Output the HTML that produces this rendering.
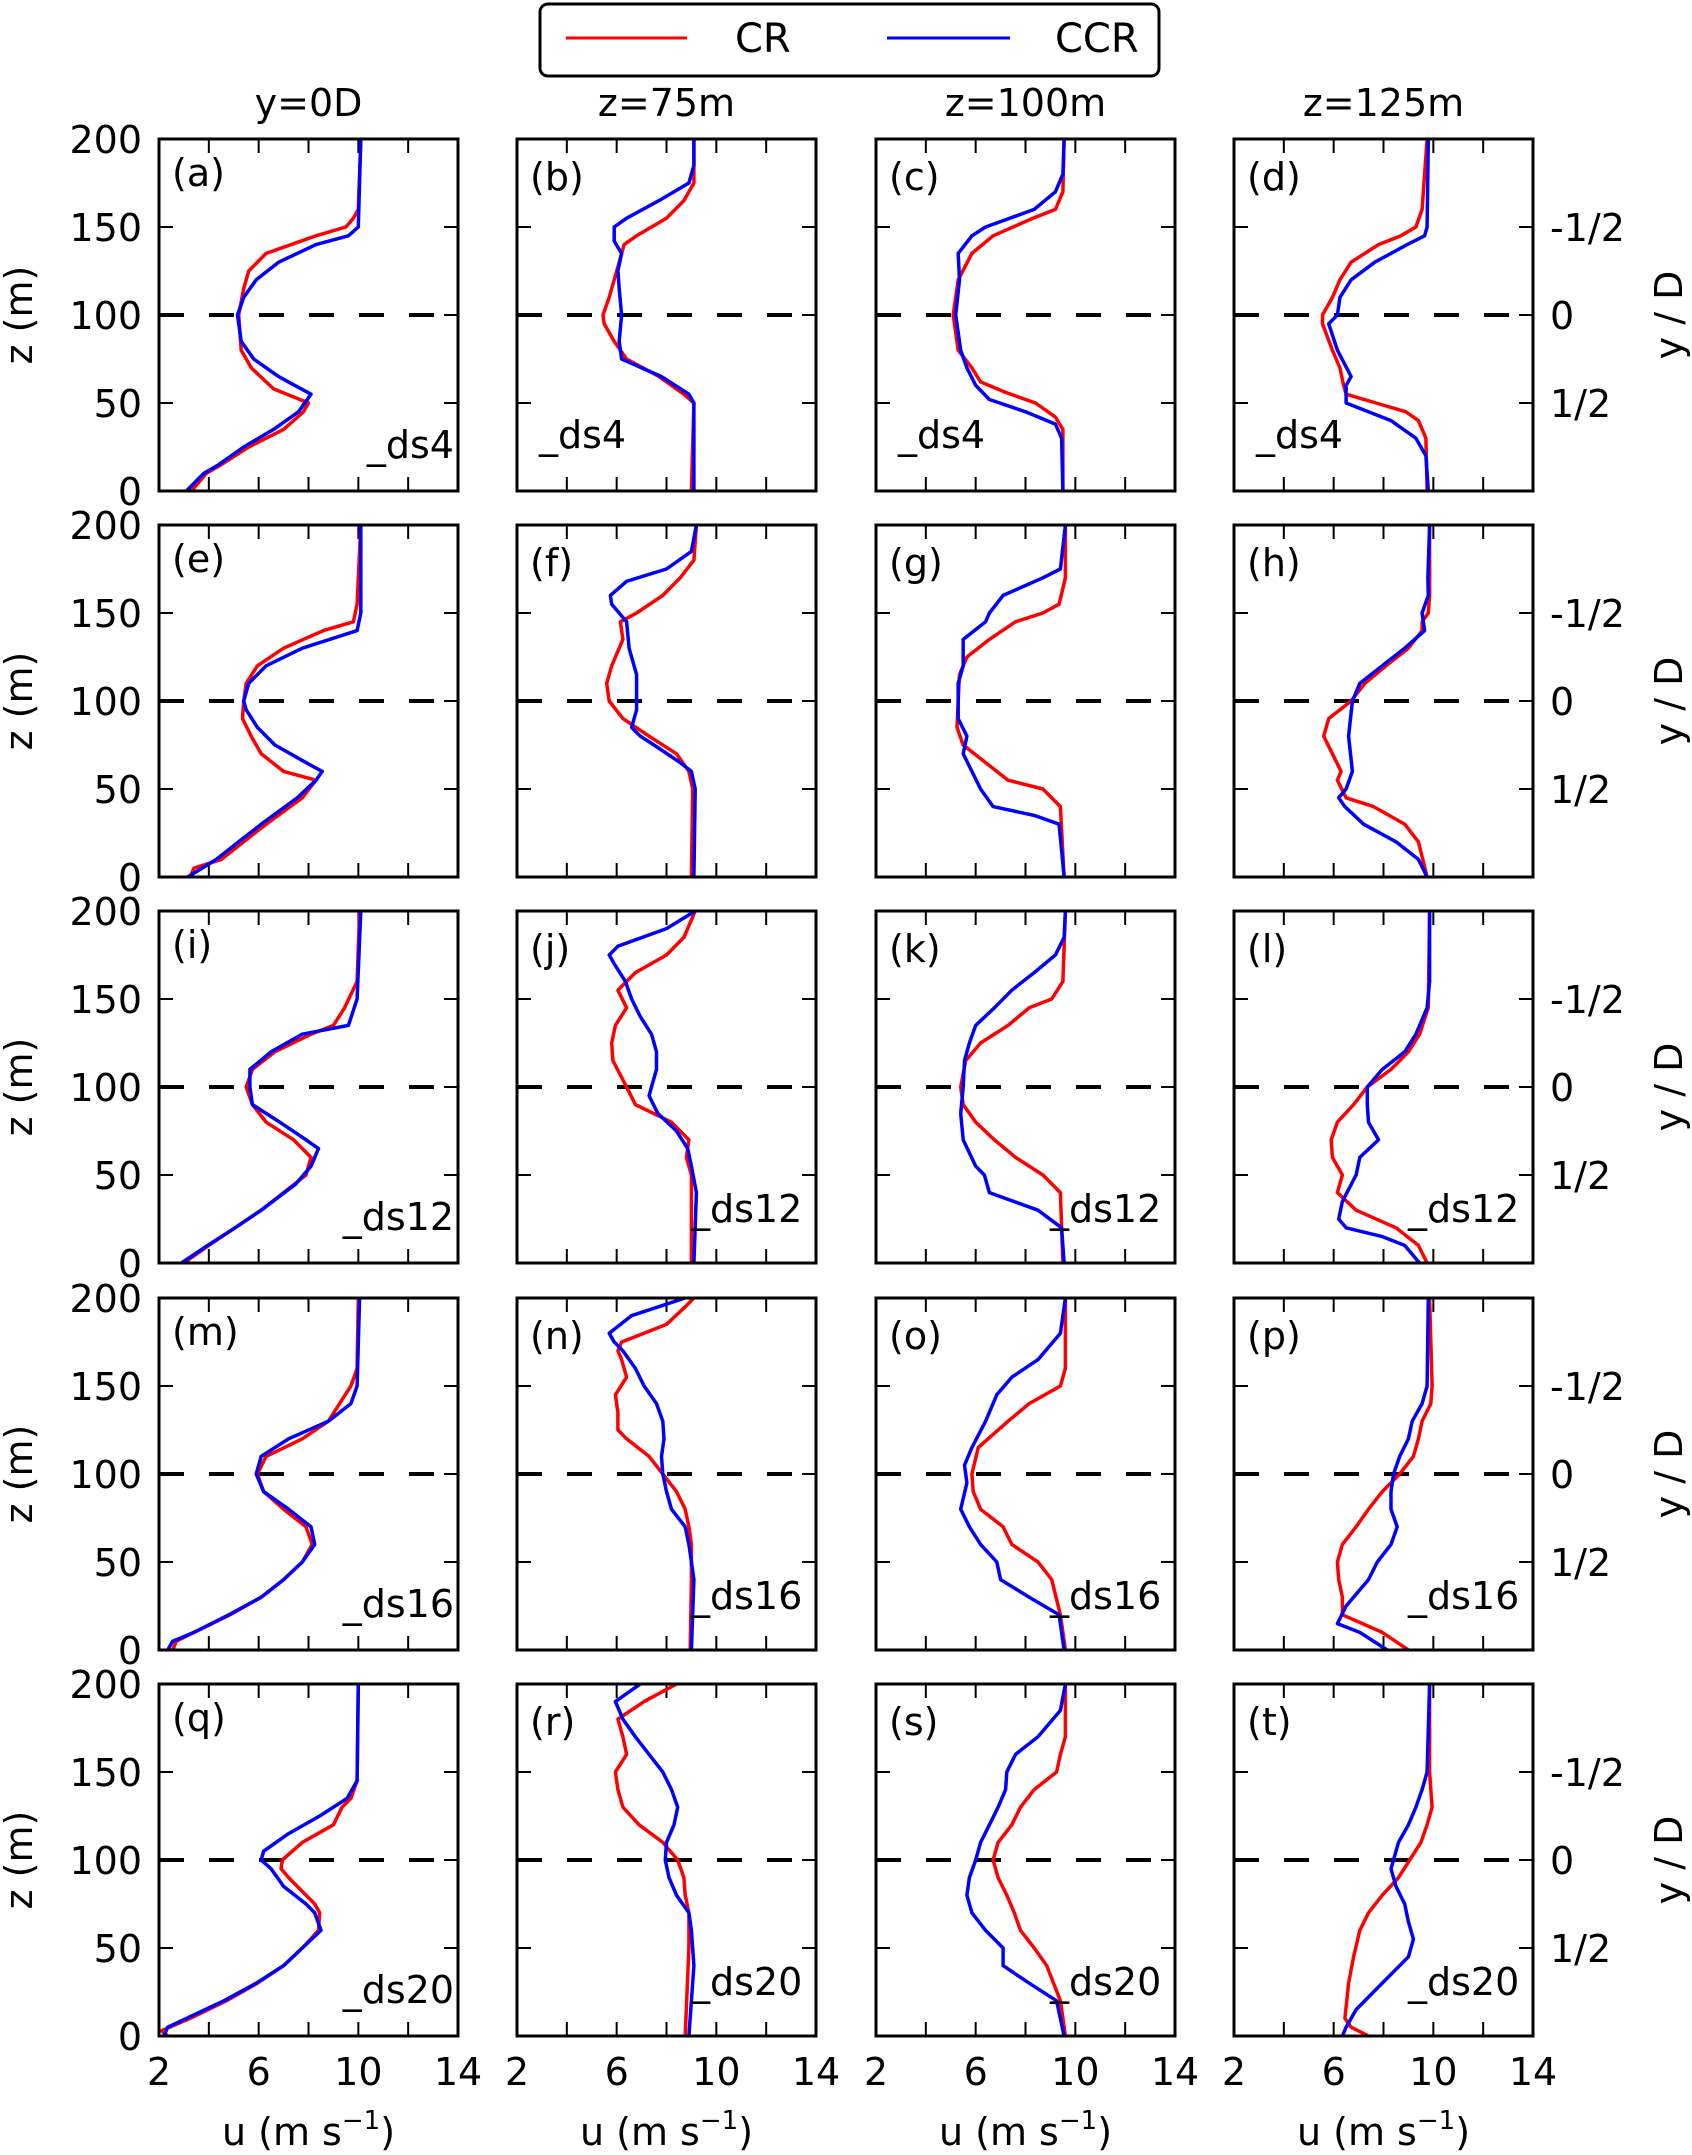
<!DOCTYPE html>
<html><head><meta charset="utf-8"><style>
html,body{margin:0;padding:0;background:#fff;}
svg{display:block;font-family:"DejaVu Sans","Liberation Sans",sans-serif;}
</style></head><body>
<svg id="fig" width="1692" height="2155" viewBox="0 0 1692 2155" xmlns="http://www.w3.org/2000/svg">
<g>
<rect x="540" y="4" width="619" height="72" rx="8" fill="#fff" stroke="#000" stroke-width="3"/>
<line x1="566" y1="38" x2="687" y2="38" stroke="#f00" stroke-width="3"/>
<text x="735" y="52" font-size="40">CR</text>
<line x1="887" y1="38" x2="1010" y2="38" stroke="#00f" stroke-width="3"/>
<text x="1055" y="52" font-size="40">CCR</text>
</g>
</svg>
<script>
const xTicks=[2,4,6,8,10,12,14];
const xTickLabels=["2","6","10","14"];
const xLabelVals=[2,6,10,14];
const yTicks=[0,50,100,150,200];
const yTickLabels=["0","50","100","150","200"];
const rightVals=[150,100,50];
const rightLabels=["-1/2","0","1/2"];
const colTitles=["y=0D","z=75m","z=100m","z=125m"];
const panelLetters=["a","b","c","d","e","f","g","h","i","j","k","l","m","n","o","p","q","r","s","t"];
const dsLabels=["_ds4",null,"_ds12","_ds16","_ds20"];

const cr_a=[[0,3.3],[10,3.9],[15,4.5],[25,5.6],[35,7.0],[45,7.8],[50,8.0],[58,6.6],[62,6.3],[70,5.7],[80,5.3],[100,5.2],[115,5.4],[125,5.6],[135,6.3],[145,8.3],[150,9.5],[155,9.8],[160,10.0],[200,10.1]];
const ccr_a=[[0,3.1],[10,3.8],[15,4.4],[25,5.4],[35,6.6],[45,7.6],[55,8.1],[65,6.8],[75,5.8],[85,5.3],[100,5.15],[110,5.4],[120,5.9],[130,6.8],[140,8.3],[145,9.6],[150,10.0],[200,10.1]];
const cr_b=[[0,9.0],[50,9.1],[55,8.7],[65,7.7],[75,6.4],[85,5.9],[95,5.5],[100,5.45],[110,5.7],[120,5.9],[130,6.1],[140,6.3],[145,6.8],[155,8.0],[165,8.7],[175,9.1],[200,9.1]];
const ccr_b=[[0,9.1],[50,9.1],[55,8.9],[65,7.8],[75,6.2],[85,6.1],[100,6.2],[115,6.1],[125,6.05],[135,6.2],[142,5.9],[150,5.9],[155,6.4],[165,7.7],[175,8.9],[185,9.1],[200,9.1]];
const cr_c=[[0,9.5],[35,9.5],[42,9.2],[50,8.4],[56,7.2],[62,6.2],[70,5.85],[80,5.3],[100,5.1],[120,5.3],[135,5.85],[145,6.7],[155,8.3],[160,9.2],[170,9.5],[200,9.55]];
const ccr_c=[[0,9.5],[30,9.45],[38,9.2],[45,8.0],[52,6.55],[60,6.0],[70,5.65],[80,5.4],[100,5.2],[120,5.35],[135,5.3],[145,5.85],[150,6.4],[160,8.35],[170,9.2],[180,9.5],[200,9.55]];
const cr_d=[[0,9.75],[30,9.7],[40,9.4],[45,8.9],[50,7.7],[55,6.5],[60,6.4],[70,6.25],[80,5.95],[95,5.55],[100,5.55],[110,5.95],[120,6.25],[130,6.7],[140,7.8],[145,8.7],[150,9.3],[160,9.55],[200,9.75]];
const ccr_d=[[0,9.8],[20,9.7],[30,9.3],[40,8.3],[50,6.5],[60,6.5],[65,6.7],[80,6.15],[95,5.8],[100,6.15],[110,6.25],[120,6.7],[130,7.65],[140,8.95],[145,9.65],[150,9.75],[200,9.8]];
const cr_e=[[0,3.25],[5,3.4],[10,4.5],[20,5.4],[30,6.3],[45,7.75],[55,8.3],[60,7.0],[70,6.1],[80,5.7],[90,5.35],[100,5.4],[110,5.5],[120,5.95],[130,7.0],[140,8.6],[145,9.8],[155,9.95],[200,10.1]];
const ccr_e=[[0,3.15],[10,4.3],[20,5.2],[30,6.1],[45,7.55],[55,8.3],[60,8.55],[65,7.9],[75,6.65],[85,5.95],[95,5.5],[100,5.4],[110,5.6],[120,6.3],[130,7.75],[140,9.95],[150,10.1],[200,10.1]];
const cr_f=[[0,9.0],[50,9.05],[60,8.9],[70,8.4],[80,7.3],[90,6.25],[100,5.7],[110,5.6],[120,5.8],[135,6.25],[145,6.15],[150,6.8],[160,7.85],[170,8.55],[180,9.1],[200,9.2]];
const ccr_f=[[0,9.1],[50,9.15],[60,9.0],[65,8.55],[75,7.5],[80,6.95],[85,6.6],[95,6.8],[115,6.8],[130,6.5],[145,6.4],[155,5.8],[160,5.75],[168,6.4],[175,8.0],[185,9.0],[200,9.2]];
const cr_g=[[0,9.55],[40,9.4],[50,8.7],[55,7.3],[65,6.4],[75,5.5],[85,5.25],[100,5.3],[115,5.35],[125,5.65],[135,6.55],[145,7.6],[150,8.7],[155,9.35],[170,9.6],[200,9.6]];
const ccr_g=[[0,9.55],[30,9.35],[35,8.35],[40,6.7],[50,6.2],[60,5.85],[70,5.5],[80,5.65],[90,5.3],[110,5.3],[120,5.5],[135,5.5],[145,6.4],[150,6.55],[160,7.1],[170,8.7],[175,9.4],[200,9.6]];
const cr_h=[[0,9.75],[20,9.4],[30,8.85],[40,7.6],[45,6.5],[55,6.15],[60,6.3],[70,5.95],[80,5.6],[90,5.8],[100,6.7],[110,7.25],[120,8.1],[130,9.0],[140,9.55],[145,9.55],[150,9.8],[160,9.85],[200,9.85]];
const ccr_h=[[0,9.75],[10,9.4],[20,8.5],[30,7.2],[40,6.45],[45,6.2],[50,6.5],[60,6.75],[80,6.6],[100,6.75],[110,7.05],[120,7.95],[130,8.85],[140,9.65],[150,9.55],[160,9.8],[170,9.78],[200,9.85]];
const cr_i=[[0,3.0],[10,4.0],[20,5.05],[30,6.1],[40,7.0],[50,7.9],[60,8.1],[70,7.4],[80,6.3],[90,5.75],[100,5.5],[110,5.75],[120,6.65],[130,8.1],[135,9.0],[145,9.45],[160,9.95],[200,10.05]];
const ccr_i=[[0,2.9],[10,3.95],[20,5.05],[30,6.1],[45,7.5],[55,8.1],[65,8.4],[70,7.9],[80,6.85],[90,5.75],[100,5.65],[110,5.65],[120,6.5],[130,7.75],[135,9.6],[150,9.95],[200,10.1]];
const cr_j=[[0,9.0],[50,9.0],[60,8.8],[70,8.9],[80,8.2],[90,6.75],[100,6.4],[115,5.85],[125,5.8],[135,5.95],[145,6.4],[155,6.05],[165,6.75],[175,8.0],[185,8.7],[200,9.15]];
const ccr_j=[[0,9.1],[40,9.2],[55,9.0],[65,8.85],[75,8.4],[85,7.65],[95,7.3],[100,7.4],[110,7.6],[120,7.6],[130,7.4],[140,6.95],[150,6.6],[160,6.35],[170,5.9],[175,5.7],[180,6.05],[190,8.0],[200,9.15]];
const cr_k=[[0,9.5],[40,9.4],[50,8.7],[60,7.6],[70,6.75],[80,6.0],[90,5.5],[100,5.4],[115,5.6],[125,6.2],[135,7.3],[145,8.15],[150,9.05],[160,9.5],[200,9.6]];
const ccr_k=[[0,9.55],[20,9.45],[30,8.5],[40,6.55],[50,6.35],[55,6.0],[70,5.5],[85,5.4],[100,5.5],[115,5.55],[125,5.75],[135,6.0],[145,6.75],[155,7.45],[165,8.35],[175,9.2],[185,9.55],[200,9.6]];
const cr_l=[[0,9.75],[10,9.4],[20,8.5],[30,6.9],[40,6.15],[50,6.35],[60,5.95],[70,5.9],[80,6.15],[90,6.8],[100,7.35],[110,8.3],[120,9.0],[130,9.45],[145,9.8],[200,9.85]];
const ccr_l=[[0,9.45],[10,8.85],[15,7.95],[20,6.5],[25,6.2],[35,6.35],[50,6.9],[60,7.05],[70,7.8],[80,7.4],[90,7.35],[100,7.35],[110,7.95],[120,8.85],[130,9.3],[145,9.75],[160,9.85],[200,9.85]];
const cr_m=[[0,2.55],[5,2.7],[10,3.4],[20,4.85],[30,6.1],[40,7.0],[50,7.75],[60,8.15],[70,7.9],[80,7.0],[90,6.2],[100,5.95],[110,6.3],[120,7.75],[130,8.8],[140,9.25],[150,9.7],[160,9.95],[200,10.0]];
const ccr_m=[[0,2.35],[5,2.55],[10,3.4],[20,4.8],[30,6.1],[40,7.0],[50,7.75],[60,8.25],[70,8.1],[80,7.2],[90,6.2],[100,5.9],[110,6.1],[120,7.2],[130,8.8],[140,9.7],[150,9.95],[200,10.05]];
const cr_n=[[0,8.95],[40,9.0],[60,9.0],[70,8.9],[80,8.75],[90,8.4],[100,7.85],[110,7.3],[120,6.4],[125,6.05],[135,6.05],[145,5.95],[155,6.4],[165,6.2],[170,6.05],[175,6.2],[185,8.0],[195,8.75],[200,9.1]];
const ccr_n=[[0,9.0],[40,9.1],[60,8.9],[70,8.75],[80,8.2],[90,8.0],[100,7.85],[110,7.8],[120,7.9],[130,7.85],[140,7.6],[150,7.1],[160,6.75],[170,6.25],[175,5.9],[180,5.7],[190,6.6],[200,8.75]];
const cr_o=[[0,9.6],[20,9.4],[40,9.05],[50,8.5],[60,7.45],[70,7.1],[80,6.2],[90,5.9],[100,5.85],[115,6.1],[130,7.3],[140,8.15],[150,9.4],[160,9.6],[200,9.6]];
const ccr_o=[[0,9.55],[20,9.35],[30,8.15],[40,7.0],[50,6.85],[60,6.2],[70,5.75],[80,5.4],[95,5.65],[105,5.55],[115,5.85],[130,6.4],[145,6.85],[155,7.45],[165,8.5],[180,9.4],[200,9.6]];
const cr_p=[[0,9.0],[10,7.95],[20,6.35],[30,6.35],[40,6.2],[50,6.15],[60,6.35],[70,6.9],[80,7.4],[90,7.95],[100,8.65],[110,9.2],[120,9.4],[130,9.55],[140,9.9],[150,9.95],[200,9.85]];
const ccr_p=[[0,8.15],[10,7.05],[15,6.15],[25,6.5],[40,7.4],[50,7.75],[60,8.3],[70,8.55],[80,8.3],[90,8.3],[100,8.4],[110,8.65],[120,9.0],[130,9.15],[140,9.55],[150,9.75],[200,9.8]];
const cr_q=[[0,2.35],[3,2.1],[10,3.25],[20,4.7],[30,5.95],[40,7.0],[50,7.75],[60,8.4],[70,8.45],[75,8.25],[80,7.9],[90,7.2],[95,6.9],[100,6.95],[110,7.75],[120,9.0],[130,9.35],[135,9.7],[145,9.95],[200,10.0]];
const ccr_q=[[0,2.2],[5,2.35],[10,3.1],[20,4.6],[30,5.9],[40,7.0],[50,7.75],[60,8.5],[70,8.25],[75,7.9],[85,7.0],[95,6.5],[100,6.1],[105,6.2],[115,7.2],[125,8.45],[135,9.55],[145,9.95],[200,10.0]];
const cr_r=[[0,8.75],[50,8.9],[70,8.9],[80,8.75],[90,8.7],[100,8.45],[110,7.85],[120,6.9],[130,6.25],[140,6.05],[150,5.95],[160,6.4],[170,6.25],[180,6.05],[190,7.1],[200,8.4]];
const ccr_r=[[0,8.9],[40,9.1],[60,9.0],[70,8.9],[80,8.4],[90,8.1],[100,7.95],[110,8.0],[120,8.3],[130,8.45],[140,8.2],[150,7.85],[160,7.3],[170,6.75],[180,6.25],[190,5.95],[200,6.95]];
const cr_s=[[0,9.6],[20,9.4],[40,8.85],[50,8.35],[60,7.8],[70,7.55],[80,7.25],[90,6.9],[100,6.7],[110,6.9],[120,7.45],[130,7.8],[140,8.35],[150,9.25],[160,9.4],[170,9.6],[200,9.6]];
const ccr_s=[[0,9.55],[20,9.25],[30,8.15],[40,7.1],[50,7.1],[60,6.4],[70,5.85],[80,5.65],[90,5.75],[100,6.0],[110,6.2],[120,6.55],[130,6.9],[140,7.2],[150,7.25],[160,7.6],[170,8.5],[185,9.4],[200,9.6]];
const cr_t=[[0,7.4],[5,6.7],[10,6.45],[30,6.6],[45,6.8],[60,7.05],[70,7.4],[80,7.95],[90,8.6],[100,9.05],[110,9.5],[120,9.75],[130,9.95],[150,9.85],[200,9.85]];
const ccr_t=[[0,6.35],[5,6.5],[15,6.9],[25,7.6],[35,8.3],[45,9.0],[55,9.2],[65,9.0],[75,8.85],[85,8.5],[95,8.3],[100,8.4],[110,8.6],[120,9.0],[130,9.3],[140,9.55],[150,9.75],[200,9.85]];

const crSeries=[cr_a,cr_b,cr_c,cr_d,cr_e,cr_f,cr_g,cr_h,cr_i,cr_j,cr_k,cr_l,cr_m,cr_n,cr_o,cr_p,cr_q,cr_r,cr_s,cr_t];
const ccrSeries=[ccr_a,ccr_b,ccr_c,ccr_d,ccr_e,ccr_f,ccr_g,ccr_h,ccr_i,ccr_j,ccr_k,ccr_l,ccr_m,ccr_n,ccr_o,ccr_p,ccr_q,ccr_r,ccr_s,ccr_t];

const NS="http://www.w3.org/2000/svg";
const svg=document.getElementById('fig');
const colLeft=[159,517,876,1234], rowTop=[139,525,911,1298,1684], PW=299, PH=352;
function xs(u,c){return colLeft[c]+(u-2)/12*PW;}
function ys(z,r){return rowTop[r]+PH-z/200*PH;}
function mk(tag,attrs,parent){const e=document.createElementNS(NS,tag);for(const k in attrs)e.setAttribute(k,attrs[k]);(parent||svg).appendChild(e);return e;}
function txt(s,x,y,size,anchor,parent){const t=mk('text',{x:x,y:y,'font-size':size,'text-anchor':anchor||'start'},parent);t.textContent=s;return t;}

for(let c=0;c<4;c++){
  const t=txt(colTitles[c],colLeft[c]+PW/2,116,38,'middle');
  
  
}
for(let r=0;r<5;r++){
  const zl=txt('z (m)',0,0,38,'middle');
  zl.setAttribute('transform','translate(32,'+(rowTop[r]+PH/2)+') rotate(-90)');
  
  
  const yd=txt('y / D',0,0,38,'middle');
  yd.setAttribute('transform','translate(1682,'+(rowTop[r]+PH/2)+') rotate(-90)');
  
  
  for(let i=0;i<yTicks.length;i++){
    const l=txt(yTickLabels[i],142,ys(yTicks[i],r)+14,38,'end');
    
    
  }
  for(let i=0;i<rightVals.length;i++){
    const l=txt(rightLabels[i],1550,ys(rightVals[i],r)+14,38,'start');
    
    
  }
}
for(let c=0;c<4;c++){
  for(let i=0;i<xLabelVals.length;i++){
    const l=txt(xTickLabels[i],xs(xLabelVals[i],c),2085,38,'middle');
    
    
  }
  const xl=mk('text',{x:colLeft[c]+PW/2,y:2145,'font-size':38,'text-anchor':'middle'});
  
  
  xl.appendChild(document.createTextNode('u (m s'));
  const sup=mk('tspan',{dy:-16,'font-size':26},xl);sup.textContent='\u22121';
  const cl=mk('tspan',{dy:16},xl);cl.textContent=')';
}

for(let r=0;r<5;r++){
  for(let c=0;c<4;c++){
    const idx=r*4+c;
    const g=mk('g',{});
    
    
    const x0=colLeft[c], y0=rowTop[r];
    for(const u of xTicks.slice(1,-1)){
      const X=xs(u,c);
      mk('line',{x1:X,y1:y0+PH,x2:X,y2:y0+PH-14,stroke:'#000','stroke-width':2},g);
      mk('line',{x1:X,y1:y0,x2:X,y2:y0+14,stroke:'#000','stroke-width':2},g);
    }
    for(const z of [50,100,150]){
      const Y=ys(z,r);
      mk('line',{x1:x0,y1:Y,x2:x0+14,y2:Y,stroke:'#000','stroke-width':2},g);
      mk('line',{x1:x0+PW,y1:Y,x2:x0+PW-14,y2:Y,stroke:'#000','stroke-width':2},g);
    }
    const dl=mk('line',{x1:x0,y1:ys(100,r),x2:x0+PW,y2:ys(100,r),stroke:'#000','stroke-width':4,'stroke-dasharray':'25 25'},g);
    
    
    const crp=mk('polyline',{points:crSeries[idx].map(p=>xs(p[1],c).toFixed(1)+','+ys(p[0],r).toFixed(1)).join(' '),fill:'none',stroke:'#f00','stroke-width':3.5,'stroke-linejoin':'round'},g);
    
    
    const ccp=mk('polyline',{points:ccrSeries[idx].map(p=>xs(p[1],c).toFixed(1)+','+ys(p[0],r).toFixed(1)).join(' '),fill:'none',stroke:'#00f','stroke-width':3.5,'stroke-linejoin':'round'},g);
    
    
    const fr=mk('rect',{x:x0,y:y0,width:PW,height:PH,fill:'none',stroke:'#000','stroke-width':3},g);
    
    
    const pl=txt('('+panelLetters[idx]+')',x0+13,y0+(c==0?47:51),38,'start',g);
    
    
    const ds=dsLabels[r];
    if(ds){
      let t;
      if(c==0) t=txt(ds,x0+PW-4,y0+319,38,'end',g);
      else if(r==0) t=txt(ds,x0+22,y0+309,38,'start',g);
      else t=txt(ds,x0+174,y0+311,38,'start',g);
      
      
    }
  }
}
</script>
</body></html>
